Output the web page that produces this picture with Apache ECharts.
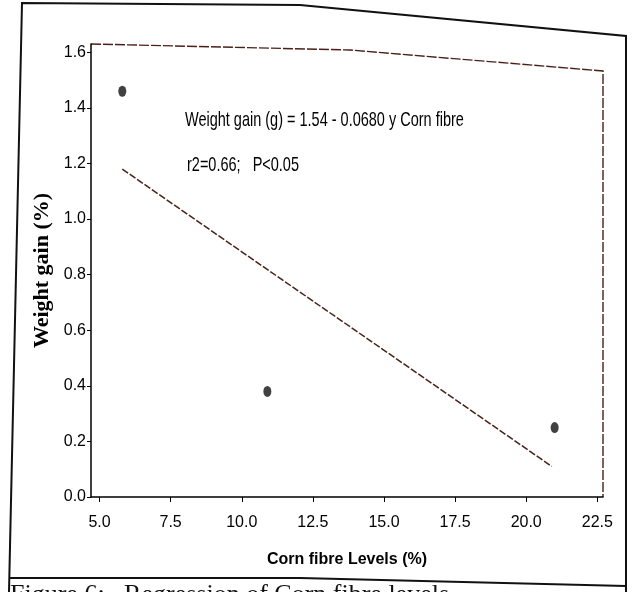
<!DOCTYPE html>
<html>
<head>
<meta charset="utf-8">
<script src="https://cdn.jsdelivr.net/npm/echarts@6/dist/echarts.min.js"></script>
<style>
  html, body { margin: 0; padding: 0; background: #fff; }
  #main { width: 634px; height: 592px; }
</style>
</head>
<body>
<div id="main"></div>
<script>
// values
var fibreLevels = [5.8, 10.9, 21.0];
var weightGain = [1.46, 0.38, 0.25];
// end points of the drawn regression line
var fitX = [5.8, 20.9];
var fitY = [1.18, 0.11];
var xTicks = [5, 7.5, 10, 12.5, 15, 17.5, 20, 22.5];
var yTicks = [0, 0.2, 0.4, 0.6, 0.8, 1.0, 1.2, 1.4, 1.6];

var chartDom = document.getElementById('main');
var myChart = echarts.init(chartDom);
var option;

var sans = "'Liberation Sans', sans-serif";

option = {
  backgroundColor: '#fff',
  animation: false,
  grid: {
    left: 91,
    right: 31,
    top: 44,
    bottom: 95
  },
  xAxis: {
    type: 'value',
    min: 4.7,
    max: 22.7,
    name: 'Corn fibre Levels (%)',
    nameLocation: 'middle',
    nameGap: 55,
    nameTextStyle: { color: '#000', fontSize: 16, fontWeight: 'bold', fontFamily: sans, letterSpacing: -1 },
    axisLine: { lineStyle: { color: '#000', width: 1.5 } },
    axisTick: { customValues: xTicks, length: 5, lineStyle: { color: '#000' } },
    axisLabel: {
      customValues: xTicks,
      margin: 18,
      color: '#000',
      fontSize: 16,
      fontFamily: sans,
      formatter: function (v) { return v.toFixed(1); }
    },
    splitLine: { show: false }
  },
  yAxis: {
    type: 'value',
    min: 0,
    max: 1.63,
    name: 'Weight gain (%)',
    nameLocation: 'middle',
    nameGap: 36,
    nameTextStyle: { color: '#000', fontSize: 22, fontWeight: 'bold', fontFamily: "'Liberation Serif', serif" },
    axisLine: { show: true, lineStyle: { color: '#000', width: 1.5 } },
    axisTick: { show: true, customValues: yTicks, length: 4, lineStyle: { color: '#000' } },
    axisLabel: {
      customValues: yTicks,
      margin: 5,
      color: '#000',
      fontSize: 16,
      fontFamily: sans,
      formatter: function (v) { return v.toFixed(1); }
    },
    splitLine: { show: false }
  },
  graphic: [
    {
      // outer frame of the scanned figure
      type: 'polyline',
      silent: true,
      shape: { points: [[9, 592], [22, 3], [300, 5], [626, 36], [626, 592]] },
      style: { stroke: '#111', lineWidth: 2, fill: null }
    },
    {
      type: 'polyline',
      silent: true,
      shape: { points: [[9, 578], [300, 578], [626, 586]] },
      style: { stroke: '#111', lineWidth: 2, fill: null }
    },
    {
      // top and right border of the plot box
      type: 'polyline',
      silent: true,
      shape: { points: [[91, 44], [350, 50], [603, 71], [603, 497]] },
      style: { stroke: '#4a2019', lineWidth: 1.4, lineDash: [10, 2], fill: null }
    },
    {
      type: 'text',
      x: 185,
      y: 110,
      scaleX: 0.69,
      silent: true,
      style: {
        text: 'Weight gain (g) = 1.54 - 0.0680 y Corn fibre',
        fontSize: 21,
        fontFamily: sans,
        fill: '#000'
      }
    },
    {
      type: 'text',
      x: 187,
      y: 155,
      scaleX: 0.69,
      silent: true,
      style: {
        text: 'r2=0.66;   P<0.05',
        fontSize: 21,
        fontFamily: sans,
        fill: '#000'
      }
    },
    {
      type: 'text',
      x: 10,
      y: 582,
      silent: true,
      style: {
        text: 'Figure 6:   Regression of Corn fibre levels',
        fontSize: 26,
        fontFamily: "'Liberation Serif', serif",
        fill: '#111'
      }
    }
  ],
  series: [
    {
      type: 'line',
      data: fitX.map(function (x, i) { return [x, fitY[i]]; }),
      symbol: 'none',
      lineStyle: { color: '#4a2019', width: 1.5, type: [7, 2] },
      z: 2
    },
    {
      type: 'scatter',
      data: fibreLevels.map(function (x, i) { return [x, weightGain[i]]; }),
      symbol: 'circle',
      symbolSize: [8, 11],
      itemStyle: { color: '#111' },
      z: 3
    }
  ]
};

option && myChart.setOption(option);
window.addEventListener("resize", function() {
    myChart.resize();
  });
</script>
</body>
</html>
